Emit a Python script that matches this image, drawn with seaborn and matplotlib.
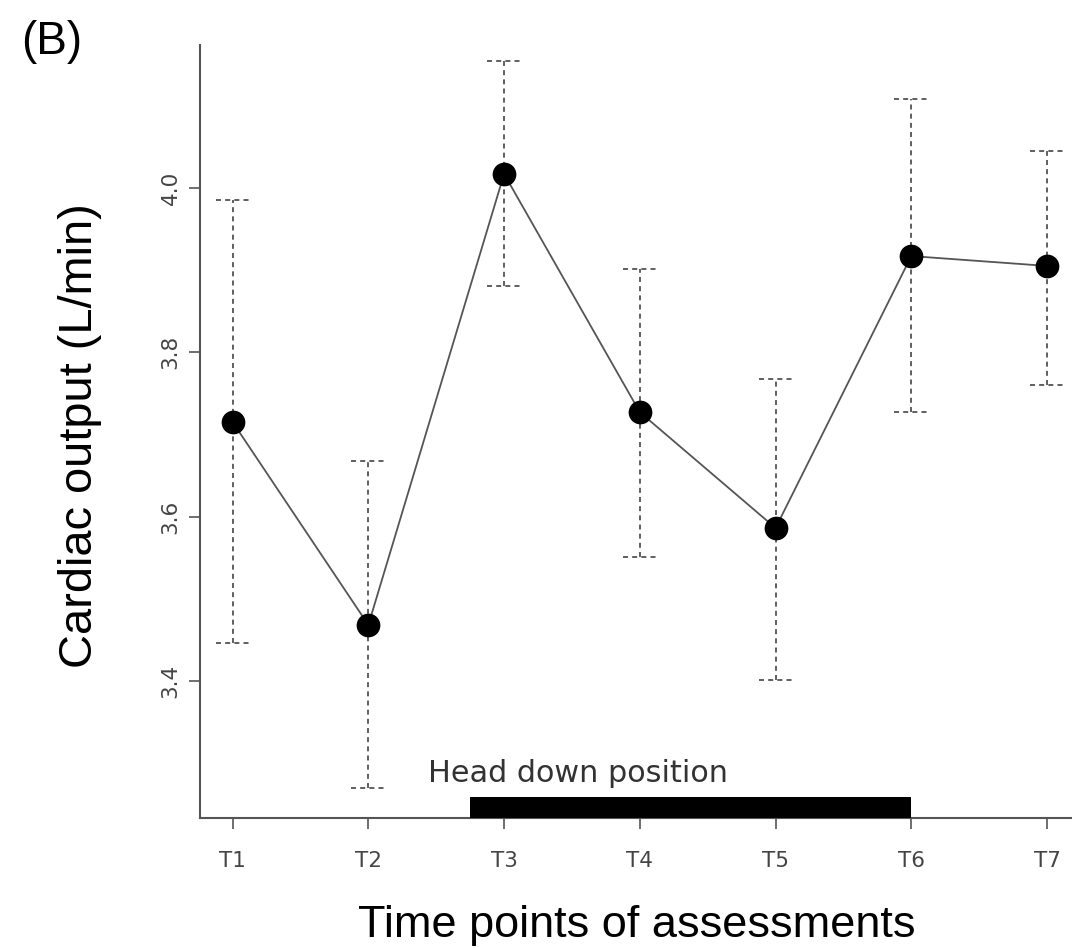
import matplotlib
matplotlib.use("Agg")
import matplotlib.pyplot as plt
import seaborn as sns
import pandas as pd

time_points = ["T1", "T2", "T3", "T4", "T5", "T6", "T7"]
cardiac_output = [3.715, 3.468, 4.017, 3.727, 3.586, 3.917, 3.905]
upper_err = [3.985, 3.668, 4.155, 3.901, 3.767, 4.108, 4.045]
lower_err = [3.446, 3.270, 3.880, 3.551, 3.401, 3.727, 3.760]
head_down_start, head_down_end = 2.75, 6.0

df = pd.DataFrame({"pos": range(1, len(time_points) + 1),
                   "co": cardiac_output, "hi": upper_err, "lo": lower_err})

sns.set_theme(style="ticks")
plt.rcParams['font.family'] = ['Liberation Sans', 'DejaVu Sans']

fig = plt.figure(figsize=(10.72, 9.48), dpi=100)
ax = fig.add_axes([0.1866, 0.1371, 0.8205, 0.8155])
ax.set_xlim(0.76, 7.24)
ax.set_ylim(3.233, 4.174)

err_color = '#444444'
dash = (0, (3, 2.5))
ax.vlines(df['pos'], df['lo'], df['hi'], colors=err_color, linestyles=dash, lw=1.2)
cap = 0.125
ax.hlines(df['hi'], df['pos'] - cap, df['pos'] + cap, colors=err_color, linestyles=dash, lw=1.2)
ax.hlines(df['lo'], df['pos'] - cap, df['pos'] + cap, colors=err_color, linestyles=dash, lw=1.2)

sns.lineplot(data=df, x='pos', y='co', color='#555555', lw=1.3, ax=ax)
sns.scatterplot(data=df, x='pos', y='co', color='black', s=250, edgecolor='black', zorder=5, ax=ax)

# head down position bar
ax.fill_between([head_down_start, head_down_end], 3.233, 3.259, color='black', lw=0, zorder=4)
ax.text(2.44, 3.27, "Head down position", fontsize=21.8, color='#333333',
        family=['DejaVu Sans'], ha='left', va='bottom')

ax.set_xticks(df['pos'])
ax.set_xticklabels(time_points, fontsize=15.5, color='#444444', family=['DejaVu Sans'])
ax.set_yticks([3.4, 3.6, 3.8, 4.0])
ax.set_yticklabels(['3.4', '3.6', '3.8', '4.0'], fontsize=15.5, color='#444444',
                   rotation=90, va='center', family=['DejaVu Sans'])
ax.tick_params(axis='x', length=8, width=1.2, color='#555555', pad=16)
ax.tick_params(axis='y', length=8, width=1.2, color='#555555', pad=6)

sns.despine(ax=ax)
for side in ['left', 'bottom']:
    ax.spines[side].set_color('#555555')
    ax.spines[side].set_linewidth(1.5)

ax.set_xlabel("Time points of assessments", fontsize=32.5, color='black')
ax.set_ylabel("Cardiac output (L/min)", fontsize=33.8, color='black')
ax.xaxis.set_label_coords(0.497, -0.113)
ax.yaxis.set_label_coords(-0.111, 0.495)

fig.text(0.02, 0.979, "(B)", fontsize=33, color='black', ha='left', va='top')

fig.savefig("out.png", dpi=100)
